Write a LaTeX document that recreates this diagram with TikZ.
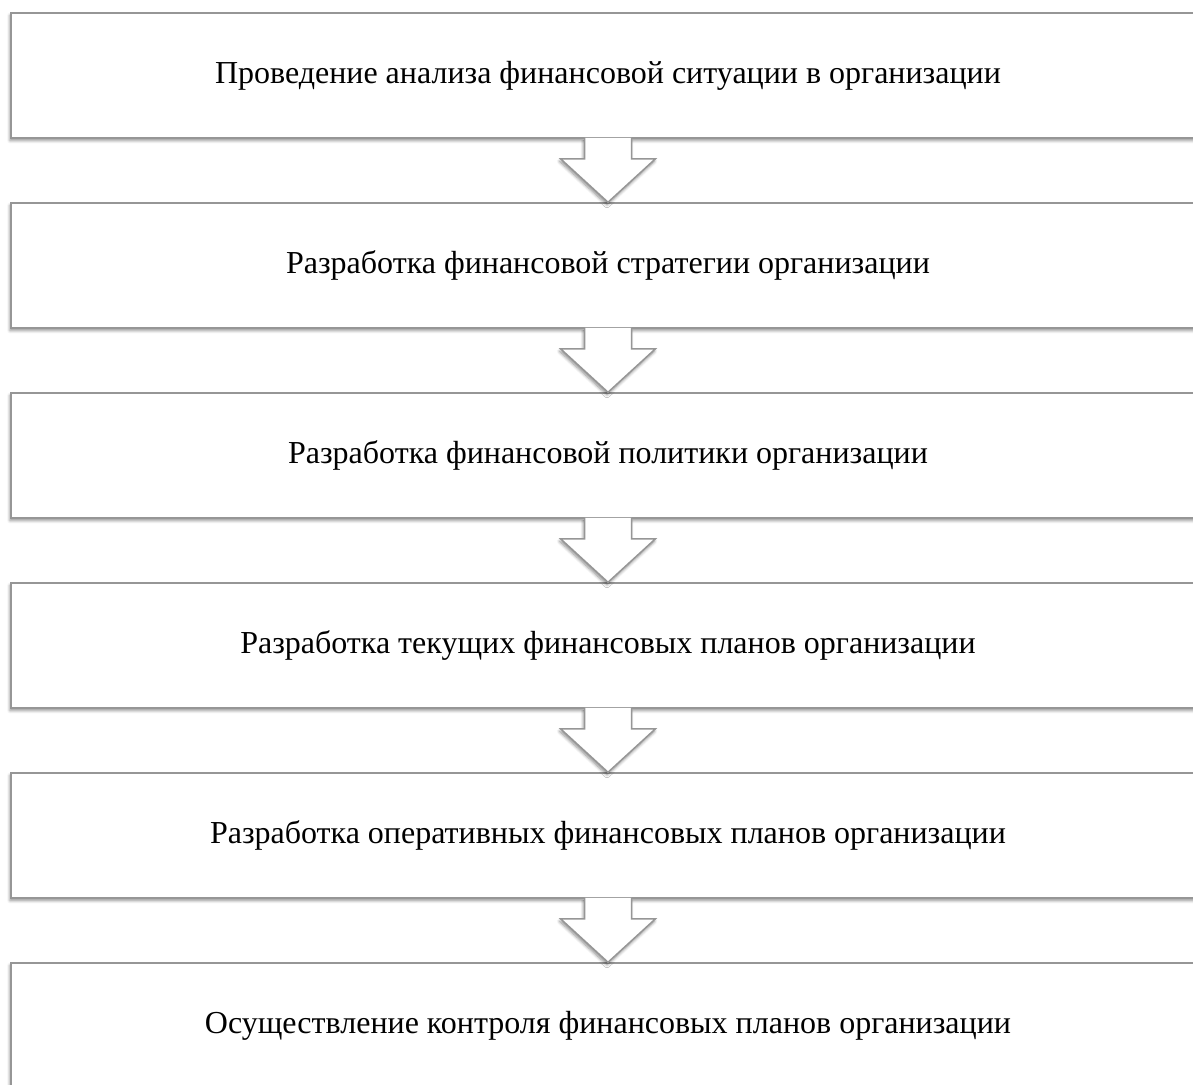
\documentclass[tikz,border=0pt]{standalone}
\usepackage{fontspec}
\setmainfont{Liberation Serif}
\usetikzlibrary{shadows.blur,calc}
\definecolor{linegray}{RGB}{150,150,150}
\definecolor{shadowgray}{RGB}{90,90,90}

\begin{document}
\begin{tikzpicture}[x=1pt,y=-1pt]
% etapas do planejamento financeiro, de cima para baixo
  \tikzset{Etapa/.style = {draw = linegray, line width = 1.5pt, fill = white,
                           minimum width = 1194pt, minimum height = 125pt,
                           font = \fontsize{32}{38}\selectfont,
                           blur shadow = {shadow xshift = -1pt, shadow yshift = -2.5pt,
                                          shadow blur radius = 3pt, shadow blur steps = 6,
                                          shadow opacity = 45}},
           Seta/.style  = {draw = linegray, line width = 1.5pt, fill = white,
                           line join = miter,
                           blur shadow = {shadow xshift = -1pt, shadow yshift = -2.5pt,
                                          shadow blur radius = 3pt, shadow blur steps = 6,
                                          shadow opacity = 45}}}

\useasboundingbox (0,0) rectangle (1193,1084);
\clip (0,0) rectangle (1193,1084);

%caixas
\node[Etapa] (b1) at (608, 75.5)  {Проведение анализа финансовой ситуации в организации};
\node[Etapa] (b2) at (608, 265.5) {Разработка финансовой стратегии организации};
\node[Etapa] (b3) at (608, 455.5) {Разработка финансовой политики организации};
\node[Etapa] (b4) at (608, 645.5) {Разработка текущих финансовых планов организации};
\node[Etapa] (b5) at (608, 835.5) {Разработка оперативных финансовых планов организации};
\node[Etapa] (b6) at (608, 1025.5) {Осуществление контроля финансовых планов организации};

%setas
\draw[Seta] ($(b1.south)+(-23.5,-1)$) -- ++(0,21) -- ++(-24,0) -- (b2.north) -- ($(b1.south)+(47.5,20)$) -- ++(-24,0) -- ++(0,-21);
\draw[Seta] ($(b2.south)+(-23.5,-1)$) -- ++(0,21) -- ++(-24,0) -- (b3.north) -- ($(b2.south)+(47.5,20)$) -- ++(-24,0) -- ++(0,-21);
\draw[Seta] ($(b3.south)+(-23.5,-1)$) -- ++(0,21) -- ++(-24,0) -- (b4.north) -- ($(b3.south)+(47.5,20)$) -- ++(-24,0) -- ++(0,-21);
\draw[Seta] ($(b4.south)+(-23.5,-1)$) -- ++(0,21) -- ++(-24,0) -- (b5.north) -- ($(b4.south)+(47.5,20)$) -- ++(-24,0) -- ++(0,-21);
\draw[Seta] ($(b5.south)+(-23.5,-1)$) -- ++(0,21) -- ++(-24,0) -- (b6.north) -- ($(b5.south)+(47.5,20)$) -- ++(-24,0) -- ++(0,-21);

\end{tikzpicture}
\end{document}
